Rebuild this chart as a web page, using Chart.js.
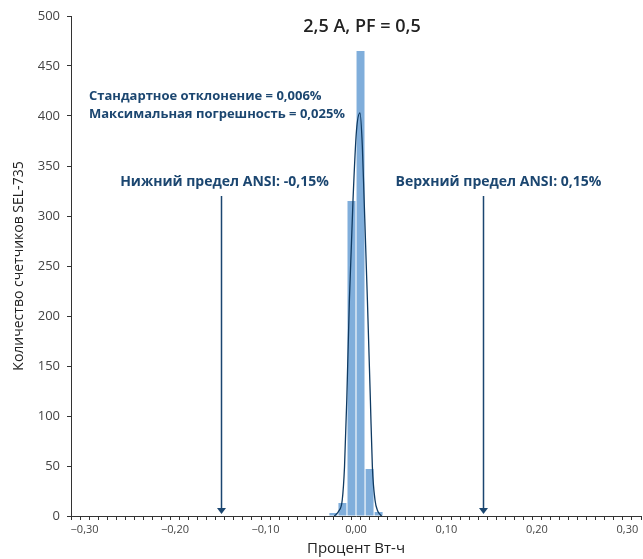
<!DOCTYPE html>
<html>
<head>
<meta charset="utf-8">
<script src="https://cdn.jsdelivr.net/npm/chart.js@4"></script>
<style>
  body { margin: 0; background: #fff; }
  #wrap { width: 643px; height: 559px; }
</style>
</head>
<body>
<div id="wrap"><canvas id="histChart"></canvas></div>
<script>
const chartTitle = '2,5 A, PF = 0,5';
const binCenters = [-0.025, -0.015, -0.005, 0.005, 0.015, 0.025];
const binCounts = [3, 13, 315, 465, 47, 4];
const curveX = [-0.024, -0.019, -0.0152, -0.0127, -0.0102, -0.0073, -0.0033, 0.0005, 0.0044, 0.0070, 0.0090, 0.0126, 0.0159, 0.0181, 0.0210, 0.0240, 0.0283];
const curveY = [0, 5, 16, 49, 116, 216, 316, 385, 403, 370, 316, 216, 116, 49, 16, 5, 0];
const statLines = ['Стандартное отклонение = 0,006%', 'Максимальная погрешность = 0,025%'];
const limitValues = [-0.149, 0.140];
const limitLabels = ['Нижний предел ANSI: -0,15%', 'Верхний предел ANSI: 0,15%'];
const arrowTop = 320;
const arrowBottom = 2;

const navy = '#1b4670';
Chart.defaults.font.family = '"Open Sans", sans-serif';

function fmtPct(v) {
  return v.toFixed(2).replace('.', ',').replace('-', '\u2212');
}

// title, stat text and ANSI limit arrows
const notes = {
  id: 'notes',
  afterDatasetsDraw(chart) {
    const { ctx, scales: { x, y } } = chart;
    ctx.save();
    ctx.fillStyle = '#222';
    ctx.font = '600 18px "Open Sans"';
    ctx.textAlign = 'center';
    ctx.textBaseline = 'middle';
    ctx.fillText(chartTitle, 362, 27);

    ctx.fillStyle = navy;
    ctx.font = 'bold 13px "Open Sans"';
    ctx.textAlign = 'left';
    statLines.forEach((t, i) => ctx.fillText(t, 89, 96 + i * 18));

    ctx.font = 'bold 14px "Open Sans"';
    ctx.textAlign = 'center';
    const shift = [3, 15];
    limitValues.forEach((v, i) => {
      const px = Math.round(x.getPixelForValue(v)) + 0.5;
      const top = y.getPixelForValue(arrowTop);
      const tip = y.getPixelForValue(arrowBottom);
      ctx.fillText(limitLabels[i], px + shift[i], 182);
      ctx.strokeStyle = navy;
      ctx.lineWidth = 1.5;
      ctx.beginPath();
      ctx.moveTo(px, top);
      ctx.lineTo(px, tip - 5);
      ctx.stroke();
      ctx.beginPath();
      ctx.moveTo(px - 4.5, tip - 6);
      ctx.lineTo(px + 4.5, tip - 6);
      ctx.lineTo(px, tip);
      ctx.closePath();
      ctx.fill();
    });
    ctx.restore();
  }
};

const ctx = document.getElementById('histChart');

new Chart(ctx, {
  type: 'bar',
  data: {
    datasets: [{
      type: 'line',
      data: curveX.map((v, i) => ({ x: v, y: curveY[i] })),
      borderColor: '#0f3a62',
      borderWidth: 1.3,
      pointRadius: 0,
      cubicInterpolationMode: 'monotone',
      fill: false,
      order: 0
    }, {
      type: 'bar',
      data: binCenters.map((v, i) => ({ x: v, y: binCounts[i] })),
      backgroundColor: '#80aedb',
      barPercentage: 0.88,
      categoryPercentage: 1,
      order: 1
    }]
  },
  options: {
    responsive: true,
    maintainAspectRatio: false,
    animation: false,
    layout: { padding: { top: 16, right: 2, left: 0, bottom: 0 } },
    plugins: { legend: { display: false }, tooltip: { enabled: false } },
    scales: {
      x: {
        type: 'linear',
        min: -0.31,
        max: 0.31,
        afterFit: (s) => { s.height = 43; },
        grid: { drawOnChartArea: false, tickLength: 4, color: '#333' },
        border: { color: '#333', width: 1 },
        ticks: {
          stepSize: 0.01,
          autoSkip: false,
          maxRotation: 0,
          padding: 3,
          color: '#444',
          font: { size: 11 },
          callback: (v) => Math.abs(Math.round(v * 100)) % 10 === 0 ? fmtPct(v) : ''
        },
        title: {
          display: true,
          text: 'Процент Вт-ч',
          color: '#222',
          font: { size: 15 },
          padding: { top: 0, bottom: 1 }
        }
      },
      y: {
        min: 0,
        max: 500,
        afterFit: (s) => { s.width = 71; },
        grid: { drawOnChartArea: false, tickLength: 4, color: '#333' },
        border: { color: '#333', width: 1 },
        ticks: { stepSize: 50, padding: 7, color: '#444', font: { size: 13 } },
        title: {
          display: true,
          text: 'Количество счетчиков SEL-735',
          color: '#222',
          font: { size: 14 },
          padding: { top: 11, bottom: 0 }
        }
      }
    }
  },
  plugins: [notes]
});
</script>
</body>
</html>
